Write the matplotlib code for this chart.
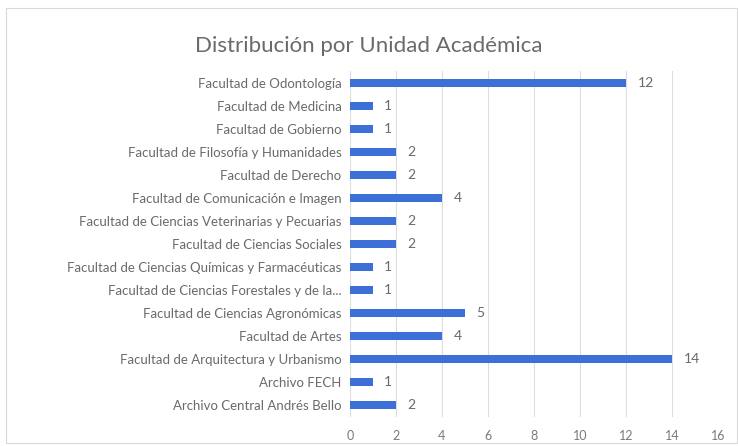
import matplotlib.pyplot as plt
from matplotlib.patches import Rectangle

plt.rcParams['font.family'] = ['Lato', 'DejaVu Sans']

categories = [
    "Facultad de Odontología",
    "Facultad de Medicina",
    "Facultad de Gobierno",
    "Facultad de Filosofía y Humanidades",
    "Facultad de Derecho",
    "Facultad de Comunicación e Imagen",
    "Facultad de Ciencias Veterinarias y Pecuarias",
    "Facultad de Ciencias Sociales",
    "Facultad de Ciencias Químicas y Farmacéuticas",
    "Facultad de Ciencias Forestales y de la...",
    "Facultad de Ciencias Agronómicas",
    "Facultad de Artes",
    "Facultad de Arquitectura y Urbanismo",
    "Archivo FECH",
    "Archivo Central Andrés Bello",
]
values = [12, 1, 1, 2, 2, 4, 2, 2, 1, 1, 5, 4, 14, 1, 2]
xticks = [0, 2, 4, 6, 8, 10, 12, 14, 16]

fig = plt.figure(figsize=(7.38, 4.46), dpi=100)
ax = fig.add_axes([0.474, 0.066, 0.499, 0.774])

ypos = list(range(len(categories)))
ax.barh(ypos, values, height=0.34, color='#3D6FD8', zorder=3)
ax.set_yticks(ypos)
ax.set_yticklabels(categories, fontsize=9.5, color='#6A6A6A')
ax.set_ylim(len(categories) - 0.5, -0.5)

ax.set_xlim(0, 16)
ax.set_xticks(xticks)
ax.set_xticklabels([str(t) for t in xticks], fontsize=9, color='#7A7A7A')
ax.grid(axis='x', color='#DDDDDD', linewidth=0.8, zorder=0)
ax.tick_params(length=0, pad=6)
ax.tick_params(axis='x', pad=10)
for s in ax.spines.values():
    s.set_visible(False)

# etiquetas de valor a la derecha de cada barra
for y, v in zip(ypos, values):
    ax.text(v + 0.5, y, str(v), va='center', ha='left', fontsize=10, color='#6A6A6A')

fig.text(0.5, 0.897, "Distribución por Unidad Académica", ha='center', va='center',
         fontsize=16, color='#6A6A6A')

fig.patches.append(Rectangle((0.008, 0.006), 0.99, 0.975, transform=fig.transFigure,
                             fill=False, edgecolor='#D9D9D9', linewidth=0.8))

fig.savefig("out.png", dpi=100)
